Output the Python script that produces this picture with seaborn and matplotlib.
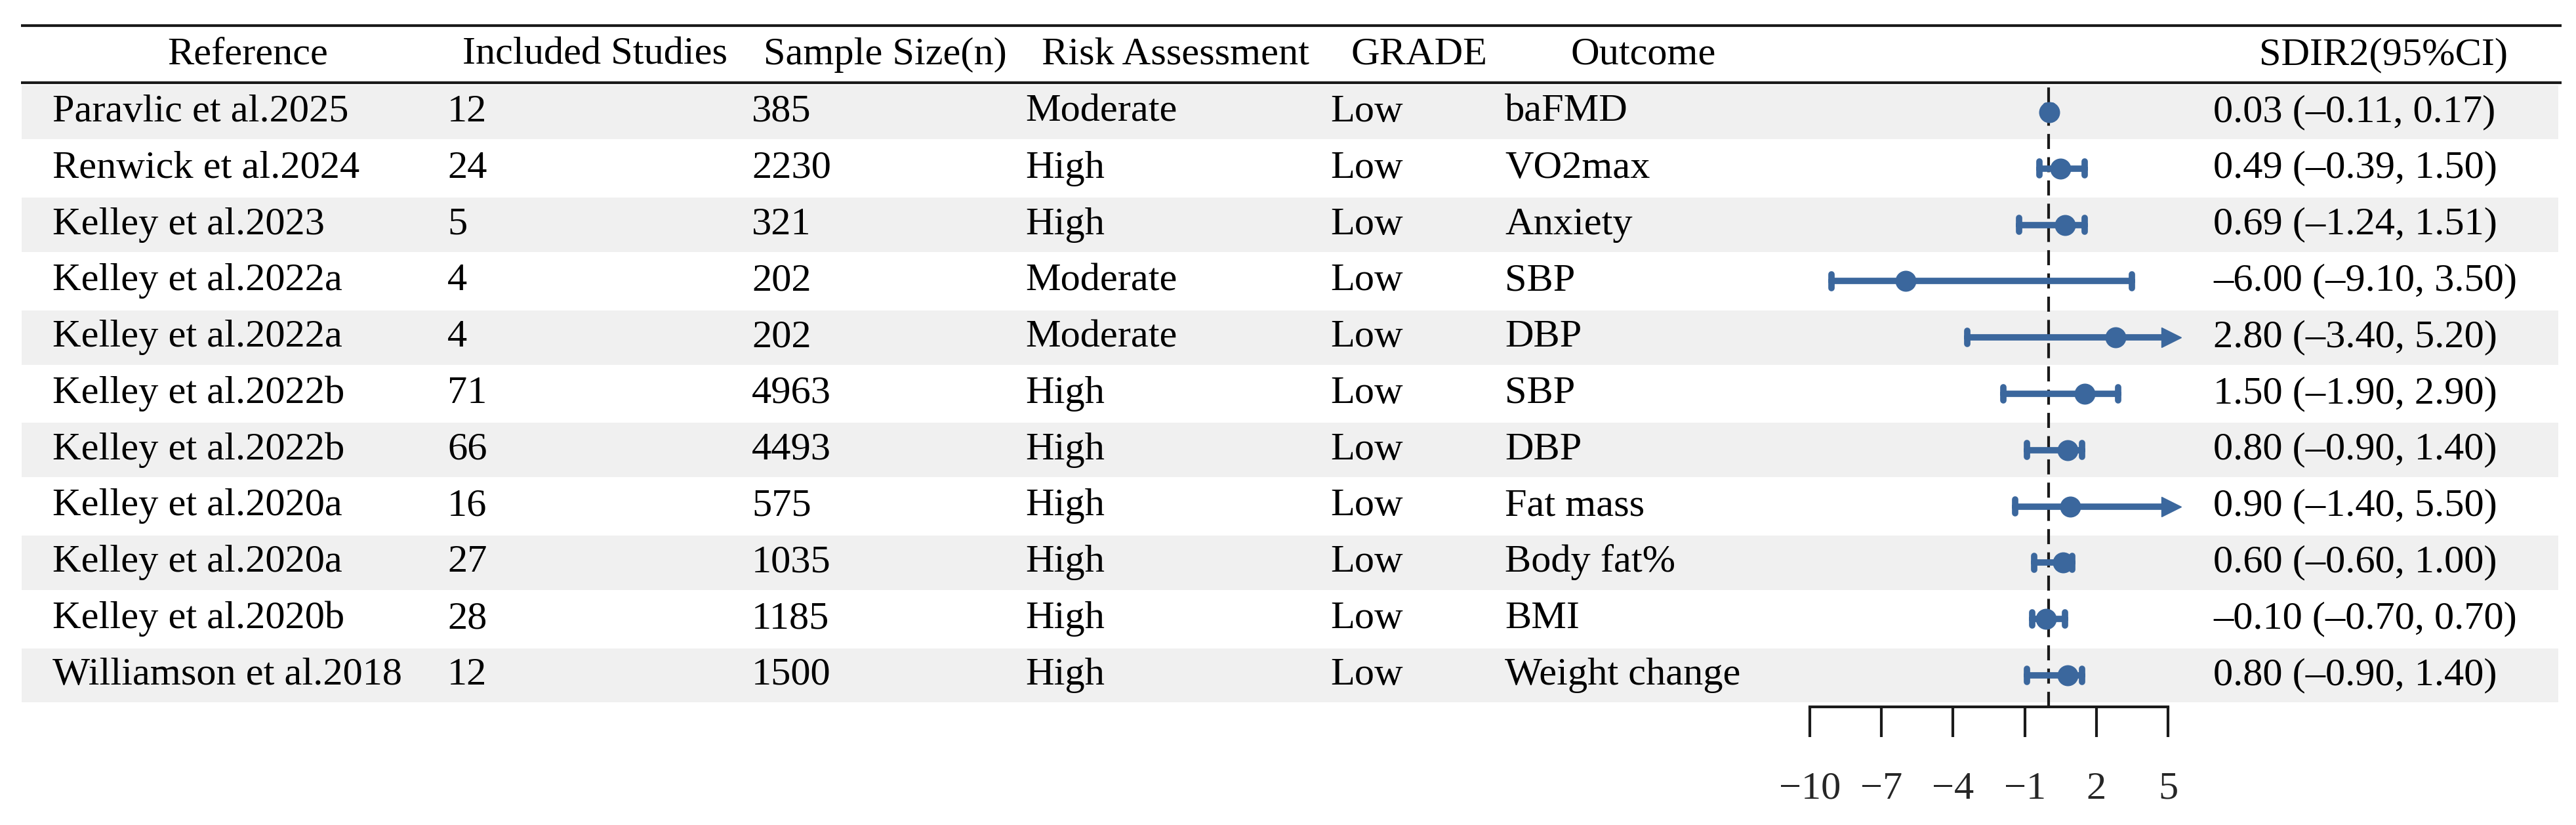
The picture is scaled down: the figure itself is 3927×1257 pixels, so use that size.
import numpy as np
import pandas as pd
import matplotlib.pyplot as plt
import seaborn as sns

sns.set_style("white")
plt.rcParams["font.family"] = ["Liberation Serif", "DejaVu Serif"]

# ---- table data ----
headers = ["Reference", "Included Studies", "Sample Size(n)", "Risk Assessment",
           "GRADE", "Outcome", "SDIR2(95%CI)"]
references = ["Paravlic et al.2025", "Renwick et al.2024", "Kelley et al.2023",
              "Kelley et al.2022a", "Kelley et al.2022a", "Kelley et al.2022b",
              "Kelley et al.2022b", "Kelley et al.2020a", "Kelley et al.2020a",
              "Kelley et al.2020b", "Williamson et al.2018"]
included_studies = [12, 24, 5, 4, 4, 71, 66, 16, 27, 28, 12]
sample_sizes = [385, 2230, 321, 202, 202, 4963, 4493, 575, 1035, 1185, 1500]
risk_assessment = ["Moderate", "High", "High", "Moderate", "Moderate", "High",
                   "High", "High", "High", "High", "High"]
grade = ["Low", "Low", "Low", "Low", "Low", "Low", "Low", "Low", "Low", "Low", "Low"]
outcomes = ["baFMD", "VO2max", "Anxiety", "SBP", "DBP", "SBP", "DBP",
            "Fat mass", "Body fat%", "BMI", "Weight change"]
effect = [0.03, 0.49, 0.69, -6.00, 2.80, 1.50, 0.80, 0.90, 0.60, -0.10, 0.80]
ci_low = [-0.11, -0.39, -1.24, -9.10, -3.40, -1.90, -0.90, -1.40, -0.60, -0.70, -0.90]
ci_high = [0.17, 1.50, 1.51, 3.50, 5.20, 2.90, 1.40, 5.50, 1.00, 0.70, 1.40]
x_ticks = [-10, -7, -4, -1, 2, 5]

n = len(references)
blue = "#3b679d"
ink = "#1a1a1a"
fs = 43.5

# ---- figure in pixel space ----
W, H = 3927, 1257
fig = plt.figure(figsize=(W / 100, H / 100), dpi=100)
tab = fig.add_axes([0, 0, 1, 1])
tab.set_xlim(0, W)
tab.set_ylim(H, 0)
tab.axis("off")

row_top = 128
row_h = 85.8
for i in range(n):
    y0 = row_top + i * row_h
    col = "#f0f0f0" if i % 2 == 0 else "white"
    tab.axhspan(y0 + 1.5, y0 + row_h - 1.5, xmin=33 / W, xmax=3900 / W,
                color=col, lw=0, zorder=0)

tab.hlines([39, 126], 32, 3905, color=ink, lw=3, zorder=2)

header_x = [378, 907, 1349, 1792, 2163, 2505, 3634]
for hx, h in zip(header_x, headers):
    tab.text(hx, 98, h, ha="center", va="baseline", fontsize=fs, color="black")

ci_text = [f"{e:.2f} ({l:.2f}, {u:.2f})".replace("-", "\u2013")
           for e, l, u in zip(effect, ci_low, ci_high)]
columns = [references, included_studies, sample_sizes, risk_assessment,
           grade, outcomes, ci_text]
col_x = [80, 682, 1146, 1563, 2028, 2294, 3374]
for cx, values in zip(col_x, columns):
    for i, v in enumerate(values):
        yc = row_top + (i + 0.5) * row_h
        tab.text(cx, yc + 14, str(v), ha="left", va="baseline", fontsize=fs,
                 color="black")

# ---- forest plot ----
ax_l, ax_r, ax_t, ax_b = 2759, 3305, 126, 1077
ax = fig.add_axes([ax_l / W, 1 - ax_b / H, (ax_r - ax_l) / W, (ax_b - ax_t) / H])
ax.patch.set_alpha(0)

row_ids = [str(i) for i in range(n)]
long_df = pd.DataFrame({
    "row": np.repeat(row_ids, 3),
    "value": np.ravel(np.column_stack([ci_low, effect, ci_high])),
})

ax.axvline(0, color=ink, lw=3.0, ls=(0, (5.5, 3.0)), zorder=1.5)

sns.pointplot(data=long_df, x="value", y="row", order=row_ids,
              estimator="median", errorbar=lambda v: (v.min(), v.max()),
              color=blue, linestyle="none", marker="o", markersize=21,
              capsize=0.24, err_kws={"linewidth": 7}, ax=ax)

x_min, x_max = x_ticks[0], x_ticks[-1]
for i, hi in enumerate(ci_high):
    if hi > x_max:
        ax.plot(x_max + 0.13, i, marker=">", ms=22, color=blue, clip_on=False,
                zorder=4)

ax.set_xlim(x_min, x_max)
ax.set_ylim(n - 0.5 + (ax_b - (row_top + n * row_h)) / row_h,
            -0.5 - (row_top - ax_t) / row_h)
ax.set_xticks(x_ticks)
ax.set_yticks([])
ax.set_xlabel("")
ax.set_ylabel("")
for side in ["left", "right", "top"]:
    ax.spines[side].set_visible(False)
ax.spines["bottom"].set_linewidth(3)
ax.spines["bottom"].set_color(ink)
ax.tick_params(axis="x", length=33, width=3, pad=38, labelsize=fs,
               color=ink, direction="out", bottom=True)

fig.savefig("out.png", dpi=100)
